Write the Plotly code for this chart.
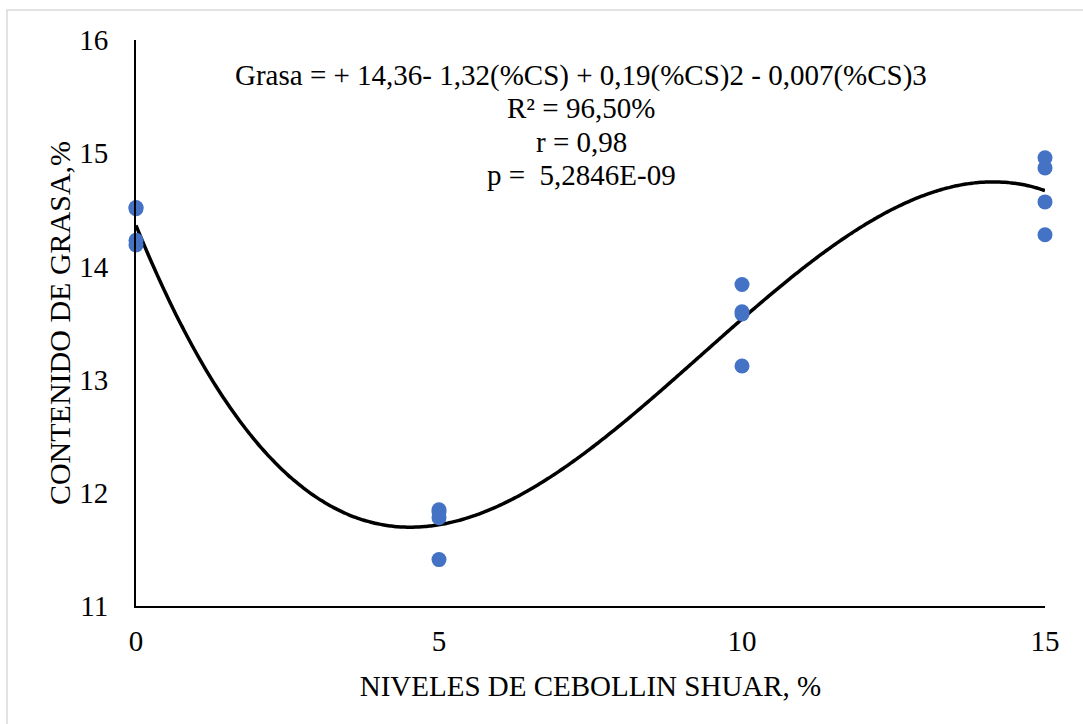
import numpy as np
import plotly.graph_objects as go

# Niveles de cebollín shuar (%) y contenido de grasa (%) por repetición
niveles = [0, 0, 0, 0, 5, 5, 5, 5, 10, 10, 10, 10, 15, 15, 15, 15]
grasa = [14.52, 14.51, 14.23, 14.19,
         11.85, 11.83, 11.78, 11.41,
         13.84, 13.60, 13.58, 13.12,
         14.96, 14.87, 14.57, 14.28]

x_ticks = [0, 5, 10, 15]
y_ticks = [11, 12, 13, 14, 15, 16]

ecuacion = [
    "Grasa = + 14,36- 1,32(%CS) + 0,19(%CS)2 - 0,007(%CS)3",
    "R² = 96,50%",
    "r = 0,98",
    "p =  5,2846E-09",
]

# Tendencia polinómica de grado 3 ajustada a las observaciones
coef = np.polyfit(niveles, grasa, 3)
xs = np.linspace(0, 15, 300)
ys = np.polyval(coef, xs)

FONT = "Liberation Serif"

fig = go.Figure()
fig.add_trace(go.Scatter(
    x=xs, y=ys, mode="lines",
    line=dict(color="black", width=3.5, shape="spline"),
    hoverinfo="skip", showlegend=False,
))
fig.add_trace(go.Scatter(
    x=niveles, y=grasa, mode="markers",
    marker=dict(color="#4472C4", size=15),
    cliponaxis=False, showlegend=False,
))

W, H = 1083, 724
ML, MR, MT, MB = 136, 38, 40, 118
pw, ph = W - ML - MR, H - MT - MB


def px_x(p):
    return (p - ML) / pw


def px_y(p):
    return (H - MB - p) / ph


# Ecuación y estadísticos del ajuste
for i, linea in enumerate(ecuacion):
    fig.add_annotation(
        text=linea, x=px_x(581), y=px_y(75 + 33.3 * i),
        xref="paper", yref="paper", showarrow=False,
        xanchor="center", yanchor="middle",
        font=dict(family=FONT, size=29, color="black"),
    )

# Marco del área del gráfico
fig.add_shape(
    type="rect", xref="paper", yref="paper",
    x0=px_x(7), x1=px_x(1100), y0=px_y(740), y1=px_y(10),
    line=dict(color="#D9D9D9", width=1.5), layer="below",
)

fig.update_layout(
    width=W, height=H,
    margin=dict(l=ML, r=MR, t=MT, b=MB, pad=0),
    paper_bgcolor="white", plot_bgcolor="white",
    font=dict(family=FONT, size=29, color="black"),
    xaxis=dict(
        range=[0, 15], tickvals=x_ticks, showgrid=False, zeroline=False,
        showline=True, linecolor="black", linewidth=2, ticks="",
        ticklabelstandoff=8,
        title=dict(text="NIVELES DE CEBOLLIN SHUAR, %", standoff=20,
                   font=dict(family=FONT, size=29)),
    ),
    yaxis=dict(
        range=[11, 16], tickvals=y_ticks, showgrid=False, zeroline=False,
        showline=True, linecolor="black", linewidth=2, ticks="",
        ticklabelstandoff=20,
        title=dict(text="CONTENIDO DE GRASA,%", standoff=0,
                   font=dict(family=FONT, size=30)),
    ),
)

fig.write_html("out.html")
